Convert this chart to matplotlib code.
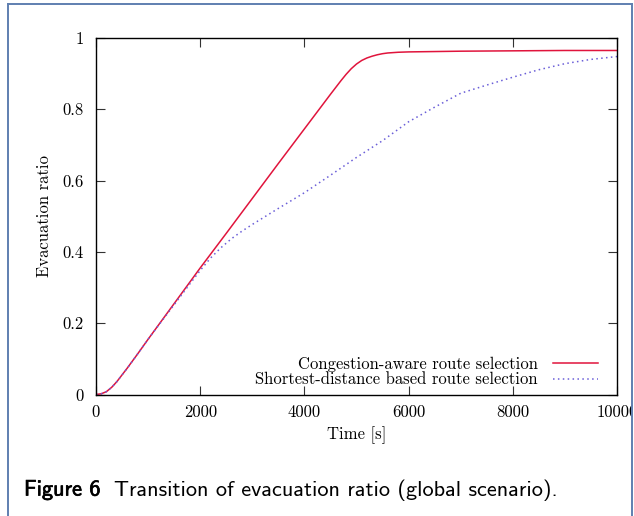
import numpy as np
import matplotlib
matplotlib.use('Agg')
import matplotlib.pyplot as plt
import matplotlib.patheffects as pe
from matplotlib.lines import Line2D
from matplotlib.patches import Rectangle

# evacuation ratio over time, two route selection strategies
t_cong = [0, 100, 200, 300, 400, 500, 600, 800, 1000, 1500, 2000, 2500, 3000, 3500,
          4000, 4500, 4700, 4800, 4900, 5000, 5100, 5200, 5300, 5400, 5500, 5600,
          5800, 6000, 6500, 7000, 8000, 9000, 10000]
r_cong = [0, 0.002, 0.008, 0.02, 0.036, 0.055, 0.074, 0.114, 0.155, 0.255, 0.355,
          0.452, 0.55, 0.648, 0.745, 0.842, 0.880, 0.898, 0.914, 0.927, 0.937, 0.944,
          0.949, 0.953, 0.956, 0.958, 0.960, 0.961, 0.962, 0.963, 0.964, 0.965, 0.965]

t_short = [0, 100, 200, 300, 400, 500, 600, 800, 1000, 1500, 1800, 2000, 2200, 2400,
           2600, 2800, 3000, 3500, 4000, 4500, 5000, 5500, 6000, 6500, 7000, 7500,
           8000, 8500, 9000, 9500, 10000]
r_short = [0, 0.002, 0.008, 0.02, 0.036, 0.055, 0.074, 0.114, 0.155, 0.252, 0.31,
           0.348, 0.383, 0.412, 0.437, 0.458, 0.477, 0.522, 0.566, 0.615, 0.665, 0.712,
           0.765, 0.806, 0.845, 0.868, 0.89, 0.911, 0.928, 0.94, 0.948]

labels = ['Congestion-aware route selection', 'Shortest-distance based route selection']
xticks = [0, 2000, 4000, 6000, 8000, 10000]
yticks = [0, 0.2, 0.4, 0.6, 0.8, 1]
yticklabels = ['0', '0.2', '0.4', '0.6', '0.8', '1']
caption_bold = 'Figure 6'
caption = 'Transition of evacuation ratio (global scenario).'

plt.rcParams['font.family'] = 'cmr10'
plt.rcParams['axes.formatter.use_mathtext'] = True

W, H = 634, 516
fig = plt.figure(figsize=(W / 100, H / 100), dpi=100)
ax = fig.add_axes([96 / W, 1 - 394.5 / H, 521 / W, 356.5 / H])

ax.plot(t_cong, r_cong, color='#e0143c', lw=1.1, label=labels[0])
ax.plot(t_short, r_short, color='#6a5ed8', lw=1.1, ls=(0, (1, 2.2)), label=labels[1])

ax.set_xlim(0, 10000)
ax.set_ylim(0, 1)
ax.set_xticks(xticks)
ax.set_xticklabels([str(v) for v in xticks])
ax.set_yticks(yticks)
ax.set_yticklabels(yticklabels)
ax.tick_params(direction='in', length=6.5, width=0.8, top=True, right=True,
               labelsize=12, color='#333333')
ax.tick_params(axis='y', pad=9)
ax.tick_params(axis='x', pad=7)
for sp in ax.spines.values():
    sp.set_linewidth(1.0)

ax.set_xlabel('Time [s]', fontsize=12, labelpad=5)
ax.set_ylabel('Evacuation ratio', fontsize=12, labelpad=7)

ax.legend(loc='lower right', bbox_to_anchor=(0.9635, 0.02), frameon=False,
          markerfirst=False, fontsize=12, handlelength=2.7, handletextpad=0.9,
          labelspacing=0.0, borderpad=0, borderaxespad=0)

# caption under the plot
t1 = fig.text(24 / W, 1 - 490 / H, caption_bold, fontsize=16, family='cmss10',
              va='center', ha='left')
t1.set_path_effects([pe.withStroke(linewidth=0.5, foreground='black')])
fig.canvas.draw()
bb = t1.get_window_extent()
fig.text((bb.x1 + 14) / W, 1 - 490 / H, caption, fontsize=16, family='cmss10',
         va='center', ha='left')

# page frame around the figure
fig.add_artist(Rectangle((632.5 / W, 0), 2 / W, 1, transform=fig.transFigure,
                         facecolor='white', edgecolor='none', zorder=10))
frame = dict(color='#5f7fb0', lw=1.4, transform=fig.transFigure, zorder=11)
fig.add_artist(Line2D([7.5 / W, 7.5 / W], [0, 1 - 4 / H], **frame))
fig.add_artist(Line2D([7.5 / W, 632 / W], [1 - 4 / H, 1 - 4 / H], **frame))
fig.add_artist(Line2D([632 / W, 632 / W], [0, 1 - 4 / H], **frame))

fig.savefig('out.png', dpi=100)
